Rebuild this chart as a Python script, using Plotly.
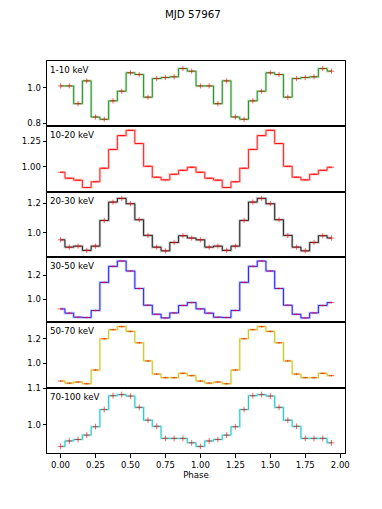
import numpy as np
import plotly.graph_objects as go
from plotly.subplots import make_subplots

# phase bins (16 per cycle, shown over two cycles)
phase = list(np.arange(32) * 0.0625)

bandas = ["1-10 keV", "10-20 keV", "20-30 keV", "30-50 keV", "50-70 keV", "70-100 keV"]

# perfis normalizados, um ciclo (repetido para o segundo ciclo)
p1_10 = [1.011, 1.011, 0.910, 1.040, 0.834, 0.821, 0.926, 0.981,
         1.086, 1.076, 0.947, 1.053, 1.059, 1.063, 1.110, 1.095]
p10_20 = [0.945, 0.886, 0.867, 0.795, 0.851, 0.984, 1.169, 1.305,
          1.357, 1.227, 1.003, 0.896, 0.870, 0.925, 0.964, 0.994]
p20_30 = [0.952, 0.902, 0.909, 0.880, 0.909, 1.084, 1.209, 1.234,
          1.198, 1.089, 0.982, 0.902, 0.877, 0.934, 0.980, 0.964]
p30_50 = [0.923, 0.888, 0.855, 0.852, 0.910, 1.140, 1.271, 1.315,
          1.233, 1.090, 0.953, 0.879, 0.849, 0.890, 0.951, 0.975]
p50_70 = [0.855, 0.838, 0.847, 0.833, 0.945, 1.200, 1.274, 1.299,
          1.260, 1.167, 1.019, 0.912, 0.882, 0.882, 0.918, 0.899]
p70_100 = [0.940, 0.955, 0.959, 0.971, 0.994, 1.041, 1.079, 1.082,
           1.078, 1.047, 1.012, 0.995, 0.962, 0.962, 0.962, 0.950]

perfis = [p1_10, p10_20, p20_30, p30_50, p50_70, p70_100]
erros = [0.015, 0.005, 0.018, 0.007, 0.007, 0.008]

# eixo y de cada painel
yranges = [[0.781, 1.153], [0.754, 1.396], [0.835, 1.280],
           [0.813, 1.348], [0.801, 1.334], [0.922, 1.101]]
ytickvals = [[0.8, 1.0], [1.0, 1.25], [1.0, 1.2], [1.0, 1.2], [1.0, 1.2], [1.0, 1.1]]
yticktext = [["0.8", "1.0"], ["1.00", "1.25"], ["1.0", "1.2"], ["1.0", "1.2"],
             ["1.0", "1.2"], ["1.0", "1.1"]]

cores = ["#008000", "#ff0000", "#000000", "#0000ff", "#bfbf00", "#00bfbf"]
halos = ["rgba(0,128,0,0.22)", "rgba(255,0,0,0.22)", "rgba(0,0,0,0.22)",
         "rgba(0,0,255,0.22)", "rgba(191,191,0,0.22)", "rgba(0,191,191,0.22)"]

fonte = "DejaVu Sans"

fig = make_subplots(rows=6, cols=1, shared_xaxes=True, vertical_spacing=0)

for i in range(6):
    y = perfis[i] + perfis[i]
    row = i + 1
    fig.add_trace(go.Scatter(x=phase, y=y, mode="lines", line_shape="hvh",
                             line=dict(color=halos[i], width=2.6),
                             hoverinfo="skip"), row=row, col=1)
    fig.add_trace(go.Scatter(x=phase, y=y, mode="lines", line_shape="hvh",
                             line=dict(color=cores[i], width=0.8)), row=row, col=1)
    fig.add_trace(go.Scatter(x=phase, y=y, mode="markers",
                             marker=dict(symbol="line-ew", size=4,
                                         line=dict(color="rgba(255,0,0,0.6)", width=1)),
                             error_y=dict(type="constant", value=erros[i], width=0,
                                          thickness=1, color="rgba(255,0,0,0.6)")),
                  row=row, col=1)
    fig.add_annotation(text=bandas[i], xref="x domain", yref="y domain",
                       x=0.004, y=1, xanchor="left", yanchor="top", yshift=-2,
                       showarrow=False, font=dict(family=fonte, size=8.7, color="black"),
                       row=row, col=1)
    fig.update_yaxes(range=yranges[i], tickvals=ytickvals[i], ticktext=yticktext[i],
                     row=row, col=1)

fig.update_xaxes(range=[-0.097, 2.034], showline=True, linecolor="black", linewidth=1,
                 mirror=True, showgrid=False, zeroline=False, ticks="",
                 showticklabels=False, automargin=False)
fig.update_xaxes(ticks="outside", ticklen=3.5, tickwidth=0.8, tickcolor="black",
                 showticklabels=True, tickvals=[0, 0.25, 0.5, 0.75, 1.0, 1.25, 1.5, 1.75, 2.0],
                 ticktext=["0.00", "0.25", "0.50", "0.75", "1.00", "1.25", "1.50", "1.75", "2.00"],
                 tickfont=dict(family=fonte, size=8.5, color="black"),
                 title=dict(text="Phase", font=dict(family=fonte, size=8.6, color="black"),
                            standoff=3),
                 row=6, col=1)
fig.update_yaxes(showline=True, linecolor="black", linewidth=1, mirror=True,
                 showgrid=False, zeroline=False, ticks="outside", ticklen=3.5,
                 tickwidth=0.8, tickcolor="black", automargin=False,
                 tickfont=dict(family=fonte, size=8.5, color="black"))

fig.update_layout(
    width=382, height=509,
    margin=dict(l=47, r=37, t=61, b=56),
    paper_bgcolor="white", plot_bgcolor="white",
    showlegend=False,
    title=dict(text="MJD 57967", x=0.505, xanchor="center", y=0.972, yanchor="middle",
               font=dict(family=fonte, size=10.3, color="black")),
)

# tira a margem padrao do body para a figura ocupar a janela toda
fig.write_html("out.html", config={"displayModeBar": False},
               post_script="document.body.style.margin='0';")
